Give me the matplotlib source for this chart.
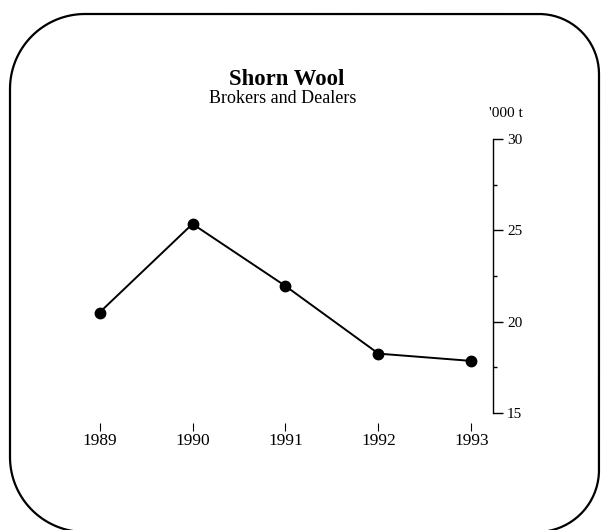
import numpy as np
import matplotlib
matplotlib.use("Agg")
import matplotlib.pyplot as plt
from matplotlib.path import Path
from matplotlib.patches import PathPatch
from matplotlib.ticker import MultipleLocator

years = [1989, 1990, 1991, 1992, 1993]
values = [20.5, 25.35, 21.95, 18.25, 17.85]
year_labels = ["1989", "1990", "1991", "1992", "1993"]
y_ticks = [15, 20, 25, 30]

W, H = 601, 530
plt.rcParams['font.family'] = ['Liberation Serif', 'DejaVu Serif']
fig = plt.figure(figsize=(W / 100, H / 100), dpi=100)
fig.patch.set_facecolor("white")

# rounded border drawn in pixel space
bg = fig.add_axes([0, 0, 1, 1])
bg.set_xlim(0, W)
bg.set_ylim(H, 0)
bg.axis("off")

def rounded_path(x0, y0, x1, y1, r_tl, r_tr, r_br, r_bl):
    pts = []
    def arc(cx, cy, r, a0, a1):
        t = np.linspace(np.radians(a0), np.radians(a1), 40)
        return list(zip(cx + r * np.cos(t), cy + r * np.sin(t)))
    # y grows downward
    pts += arc(x0 + r_tl, y0 + r_tl, r_tl, 180, 270)
    pts += arc(x1 - r_tr, y0 + r_tr, r_tr, 270, 360)
    pts += arc(x1 - r_br, y1 - r_br, r_br, 0, 90)
    pts += arc(x0 + r_bl, y1 - r_bl, r_bl, 90, 180)
    pts.append(pts[0])
    return Path(pts)

border = PathPatch(rounded_path(10, 14, 599, 532, 75, 60, 62, 75),
                   facecolor="none", edgecolor="black", lw=1.6)
bg.add_patch(border)

ax = fig.add_axes([40 / W, (H - 413) / H, 453 / W, 274 / H])
ax.set_facecolor("none")
ax.plot(years, values, color="black", lw=1.4, marker="o", markersize=7.5)
ax.set_xlim(1989 - 59.5 / 93, 1993 + 21.5 / 93)
ax.set_ylim(15, 30)

for s in ["top", "left"]:
    ax.spines[s].set_visible(False)
ax.spines["bottom"].set_visible(False)
ax.spines["bottom"].set_position(("outward", 18 * 0.72))
ax.spines["right"].set_linewidth(1.0)

ax.set_xticks(years)
ax.set_xticklabels(year_labels)
ax.tick_params(axis="x", direction="in", length=5.8, width=0.8, pad=1.5,
               labelsize=12.5)

ax.yaxis.tick_right()
ax.set_yticks(y_ticks)
ax.set_yticklabels([str(v) for v in y_ticks])
ax.yaxis.set_minor_locator(MultipleLocator(2.5))
ax.tick_params(axis="y", which="major", direction="out", length=7, width=1.0,
               pad=3, labelsize=11)
ax.tick_params(axis="y", which="minor", direction="out", length=3, width=1.0)

fig.text(286.5 / W, 1 - 85 / H, "Shorn Wool", ha="center", va="baseline",
         fontsize=16.4, fontweight="bold")
fig.text(283 / W, 1 - 103 / H, "Brokers and Dealers", ha="center",
         va="baseline", fontsize=13)
fig.text(506 / W, 1 - 117 / H, "'000 t", ha="center", va="baseline",
         fontsize=11)

fig.savefig("out.png", dpi=100, facecolor="white")
